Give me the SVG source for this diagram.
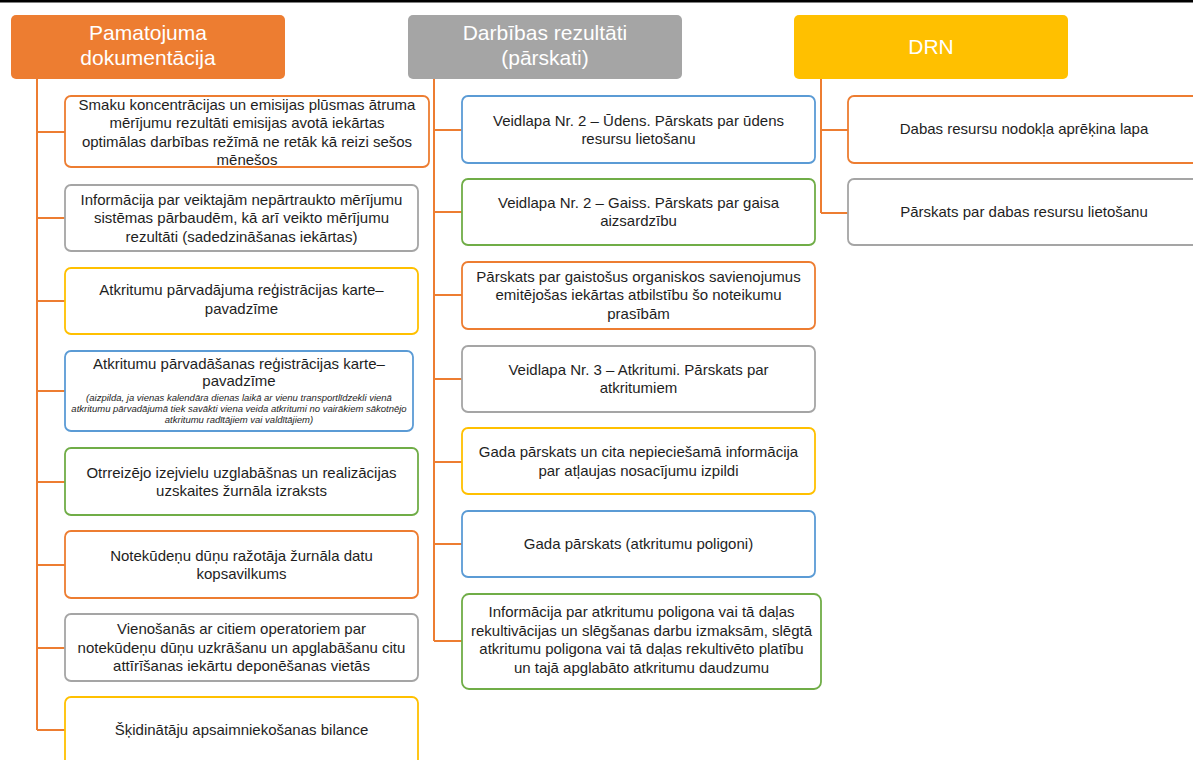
<svg xmlns="http://www.w3.org/2000/svg" width="1193" height="760" viewBox="0 0 1193 760">
<style>
.t{font-family:"Liberation Sans",Arial,sans-serif;font-size:15px;fill:#1e1e1e;text-anchor:middle}
.s{font-family:"Liberation Sans",Arial,sans-serif;font-size:9.5px;font-style:italic;fill:#1e1e1e;text-anchor:middle}
.h{font-family:"Liberation Sans",Arial,sans-serif;font-size:21px;fill:#ffffff;text-anchor:middle}
.b{fill:#ffffff;stroke-width:1.8}
.or{stroke:#ED7D31}.gr{stroke:#A5A5A5}.ye{stroke:#FFC000}.bl{stroke:#5B9BD5}.gn{stroke:#70AD47}
.c{fill:none;stroke:#ED7D31;stroke-width:2}
</style>
<rect x="0" y="0" width="1193" height="2.5" fill="#000"/>
<g id="connectors">
<path class="c" d="M37 79V730M37 132H65M37 218H65M37 301H65M37 391H65M37 482H65M37 565H65M37 648H65M37 730H65"/>
<path class="c" d="M434 79V641M434 130H462M434 212H462M434 295H462M434 379H462M434 462H462M434 544H462M434 641H462"/>
<path class="c" d="M821 79V213M821 130H848M821 213H848"/>
</g>
<g id="h1"><rect x="11" y="15" width="274" height="64" rx="5" fill="#ED7D31"/><text class="h" x="148" y="40">Pamatojuma</text><text class="h" x="148" y="65">dokumentācija</text></g>
<g id="h2"><rect x="408" y="15" width="274" height="64" rx="5" fill="#A5A5A5"/><text class="h" x="545" y="40">Darbības rezultāti</text><text class="h" x="545" y="65">(pārskati)</text></g>
<g id="h3"><rect x="794" y="15" width="274" height="64" rx="5" fill="#FFC000"/><text class="h" x="931" y="54">DRN</text></g>

<g id="l1"><rect class="b or" x="65" y="96" width="364" height="71" rx="6"/><text class="t" x="247" y="109.5">Smaku koncentrācijas un emisijas plūsmas ātruma</text><text class="t" x="247" y="128">mērījumu rezultāti emisijas avotā iekārtas</text><text class="t" x="247" y="146.5">optimālas darbības režīmā ne retāk kā reizi sešos</text><text class="t" x="247" y="165">mēnešos</text></g>
<g id="l2"><rect class="b gr" x="65" y="185" width="353" height="66" rx="6"/><text class="t" x="241.5" y="204.5">Informācija par veiktajām nepārtraukto mērījumu</text><text class="t" x="241.5" y="223">sistēmas pārbaudēm, kā arī veikto mērījumu</text><text class="t" x="241.5" y="241.5">rezultāti (sadedzināšanas iekārtas)</text></g>
<g id="l3"><rect class="b ye" x="65" y="268" width="353" height="66" rx="6"/><text class="t" x="241.5" y="295">Atkritumu pārvadājuma reģistrācijas karte–</text><text class="t" x="241.5" y="313.5">pavadzīme</text></g>
<g id="l4"><rect class="b bl" x="65" y="351" width="348" height="80" rx="6"/><text class="t" x="239" y="369">Atkritumu pārvadāšanas reģistrācijas karte–</text><text class="t" x="239" y="386">pavadzīme</text><text class="s" x="239" y="400.5">(aizpilda, ja vienas kalendāra dienas laikā ar vienu transportlīdzekli vienā</text><text class="s" x="239" y="412">atkritumu pārvadājumā tiek savākti viena veida atkritumi no vairākiem sākotnējo</text><text class="s" x="239" y="423">atkritumu radītājiem vai valdītājiem)</text></g>
<g id="l5"><rect class="b gn" x="65" y="448" width="353" height="67" rx="6"/><text class="t" x="241.5" y="477.5">Otrreizējo izejvielu uzglabāšnas un realizācijas</text><text class="t" x="241.5" y="496">uzskaites žurnāla izraksts</text></g>
<g id="l6"><rect class="b or" x="65" y="531" width="353" height="67" rx="6"/><text class="t" x="241.5" y="560.5">Notekūdeņu dūņu ražotāja žurnāla datu</text><text class="t" x="241.5" y="579">kopsavilkums</text></g>
<g id="l7"><rect class="b gr" x="65" y="614" width="353" height="67" rx="6"/><text class="t" x="241.5" y="634">Vienošanās ar citiem operatoriem par</text><text class="t" x="241.5" y="652.5">notekūdeņu dūņu uzkrāšanu un apglabāšanu citu</text><text class="t" x="241.5" y="671">attīrīšanas iekārtu deponēšanas vietās</text></g>
<g id="l8"><rect class="b ye" x="65" y="697" width="353" height="70" rx="6"/><text class="t" x="241.5" y="735">Šķidinātāju apsaimniekošanas bilance</text></g>

<g id="m1"><rect class="b bl" x="462" y="96" width="353" height="67" rx="6"/><text class="t" x="638.5" y="125.5">Veidlapa Nr. 2 – Ūdens. Pārskats par ūdens</text><text class="t" x="638.5" y="144">resursu lietošanu</text></g>
<g id="m2"><rect class="b gn" x="462" y="179" width="353" height="66" rx="6"/><text class="t" x="638.5" y="207.5">Veidlapa Nr. 2 – Gaiss. Pārskats par gaisa</text><text class="t" x="638.5" y="226">aizsardzību</text></g>
<g id="m3"><rect class="b or" x="462" y="262" width="353" height="67" rx="6"/><text class="t" x="638.5" y="281.5">Pārskats par gaistošus organiskos savienojumus</text><text class="t" x="638.5" y="300">emitējošas iekārtas atbilstību šo noteikumu</text><text class="t" x="638.5" y="318.5">prasībām</text></g>
<g id="m4"><rect class="b gr" x="462" y="346" width="353" height="66" rx="6"/><text class="t" x="638.5" y="374.5">Veidlapa Nr. 3 – Atkritumi. Pārskats par</text><text class="t" x="638.5" y="393">atkritumiem</text></g>
<g id="m5"><rect class="b ye" x="462" y="428" width="353" height="66" rx="6"/><text class="t" x="638.5" y="457">Gada pārskats un cita nepieciešamā informācija</text><text class="t" x="638.5" y="475.5">par atļaujas nosacījumu izpildi</text></g>
<g id="m6"><rect class="b bl" x="462" y="511" width="353" height="66" rx="6"/><text class="t" x="638.5" y="549">Gada pārskats (atkritumu poligoni)</text></g>
<g id="m7"><rect class="b gn" x="462" y="594" width="359" height="95" rx="7"/><text class="t" x="641.5" y="617">Informācija par atkritumu poligona vai tā daļas</text><text class="t" x="641.5" y="635.5">rekultivācijas un slēgšanas darbu izmaksām, slēgtā</text><text class="t" x="641.5" y="654">atkritumu poligona vai tā daļas rekultivēto platību</text><text class="t" x="641.5" y="672.5">un tajā apglabāto atkritumu daudzumu</text></g>

<g id="r1"><rect class="b or" x="848" y="96" width="352" height="67" rx="6"/><text class="t" x="1024" y="134">Dabas resursu nodokļa aprēķina lapa</text></g>
<g id="r2"><rect class="b gr" x="848" y="179" width="352" height="66" rx="6"/><text class="t" x="1024" y="217">Pārskats par dabas resursu lietošanu</text></g>
</svg>
